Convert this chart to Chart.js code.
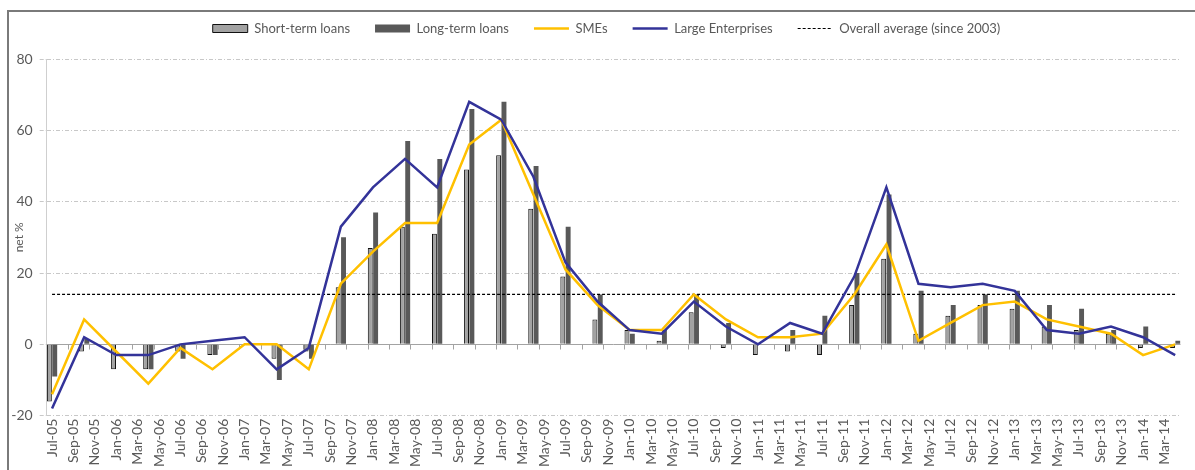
<!DOCTYPE html>
<html>
<head>
<meta charset="utf-8">
<script src="https://cdn.jsdelivr.net/npm/chart.js@4.4.1/dist/chart.umd.min.js"></script>
<style>
  html, body { margin: 0; padding: 0; background: #fff; overflow: hidden; }
  #wrap { position: relative; width: 1195px; height: 470px; }
  #frame { position: absolute; left: 6.5px; top: 9.5px; width: 1300px; height: 600px;
           border-left: 2px solid #7a7a7a; border-top: 2px solid #7a7a7a; pointer-events: none; }
  canvas { position: absolute; left: 0; top: 0; }
</style>
</head>
<body>
<div id="wrap">
  <canvas id="myChart" width="1195" height="470"></canvas>
  <div id="frame"></div>
</div>
<script>
// quarterly survey rounds
const quarters = ['Jul-05', 'Oct-05', 'Jan-06', 'Apr-06', 'Jul-06', 'Oct-06', 'Jan-07', 'Apr-07', 'Jul-07',
    'Oct-07', 'Jan-08', 'Apr-08', 'Jul-08', 'Oct-08', 'Jan-09', 'Apr-09', 'Jul-09', 'Oct-09',
    'Jan-10', 'Apr-10', 'Jul-10', 'Oct-10', 'Jan-11', 'Apr-11', 'Jul-11', 'Oct-11', 'Jan-12',
    'Apr-12', 'Jul-12', 'Oct-12', 'Jan-13', 'Apr-13', 'Jul-13', 'Oct-13', 'Jan-14', 'Apr-14'];

const shortTermLoans = [-16, -2, -7, -7, -2, -3, 0, -4, -2, 16, 27, 33, 31, 49, 53, 38, 19, 7,
    4, 1, 9, -1, -3, -2, -3, 11, 24, 3, 8, 11, 10, 5, 4, 3, -1, -1];
const longTermLoans = [-9, 1.5, 0, -7, -4, -3, 0, -10, -4, 30, 37, 57, 52, 66, 68, 50, 33, 14,
    3, 4, 14, 6, 0, 4, 8, 20, 42, 15, 11, 14, 15, 11, 10, 4, 5, 1];
const smes = [-14, 7, -2, -11, -1, -7, 0, 0, -7, 17, 26, 34, 34, 56, 63, 42, 21, 11,
    4, 4, 14, 7, 2, 2, 3, 14, 28, 1, 6, 11, 12, 7, 5, 3, -3, 0];
const largeEnterprises = [-18, 2, -3, -3, 0, 1, 2, -7, -1, 33, 44, 52, 44, 68, 63, 47, 23, 12,
    4, 3, 12, 5, 0, 6, 3, 19, 44, 17, 16, 17, 15, 4, 3, 5, 2, -3];
const overallAverage = 14;

const yTicks = [-20, 0, 20, 40, 60, 80];

// monthly axis, labels shown every second month
const monthNames = ['Jan', 'Feb', 'Mar', 'Apr', 'May', 'Jun', 'Jul', 'Aug', 'Sep', 'Oct', 'Nov', 'Dec'];
const months = [];
for (let yr = 2005, mo = 6; ; mo++) {
    if (mo === 12) { mo = 0; yr++; }
    const lbl = monthNames[mo] + '-' + String(yr).slice(2);
    months.push(lbl);
    if (lbl === quarters[quarters.length - 1]) break;
}

const toMonthly = series => months.map(m => {
    const k = quarters.indexOf(m);
    return k < 0 ? null : series[k];
});

// solid zero line with the small category ticks hanging from it
const zeroLine = {
    id: 'zeroLine',
    beforeDatasetsDraw(chart) {
        const { ctx, chartArea, scales: { x, y } } = chart;
        const y0 = Math.round(y.getPixelForValue(0)) + 0.5;
        const half = (x.getPixelForValue(1) - x.getPixelForValue(0)) / 2;
        ctx.save();
        ctx.strokeStyle = '#a3a3a3';
        ctx.lineWidth = 1;
        ctx.beginPath();
        ctx.moveTo(chartArea.left, y0);
        ctx.lineTo(chartArea.right, y0);
        months.forEach((m, i) => {
            if (i % 2 === 0) {
                const px = Math.round(x.getPixelForValue(i) - half) + 0.5;
                ctx.moveTo(px, y0);
                ctx.lineTo(px, y0 + 5);
            }
        });
        ctx.stroke();
        ctx.restore();
    }
};

Chart.defaults.font.family = 'Lato';
Chart.defaults.color = '#595959';

const ctx = document.getElementById('myChart').getContext('2d');
new Chart(ctx, {
    type: 'bar',
    data: {
        labels: months,
        datasets: [
            {
                label: 'Short-term loans',
                data: toMonthly(shortTermLoans),
                backgroundColor: '#a2a2a2',
                borderColor: '#111',
                borderWidth: 1,
                barPercentage: 0.92,
                categoryPercentage: 1,
                order: 3
            },
            {
                label: 'Long-term loans',
                data: toMonthly(longTermLoans),
                backgroundColor: '#595959',
                borderColor: '#595959',
                borderWidth: 0,
                barPercentage: 0.92,
                categoryPercentage: 1,
                order: 3
            },
            {
                type: 'line',
                label: 'SMEs',
                data: toMonthly(smes),
                borderColor: '#ffc000',
                backgroundColor: '#ffc000',
                borderWidth: 2.5,
                pointRadius: 0,
                tension: 0,
                spanGaps: true,
                order: 1
            },
            {
                type: 'line',
                label: 'Large Enterprises',
                data: toMonthly(largeEnterprises),
                borderColor: '#333399',
                backgroundColor: '#333399',
                borderWidth: 2.5,
                pointRadius: 0,
                tension: 0,
                spanGaps: true,
                order: 0
            },
            {
                type: 'line',
                label: 'Overall average (since 2003)',
                data: toMonthly(quarters.map(() => overallAverage)),
                borderColor: '#000',
                backgroundColor: '#000',
                borderWidth: 1.2,
                borderDash: [3, 2],
                pointRadius: 0,
                spanGaps: true,
                order: 2
            }
        ]
    },
    options: {
        responsive: false,
        animation: false,
        devicePixelRatio: 1,
        layout: {
            padding: { top: -3, right: -18, bottom: 0, left: 0 }
        },
        plugins: {
            legend: {
                position: 'top',
                labels: {
                    usePointStyle: true,
                    pointStyleWidth: 35,
                    boxHeight: 8,
                    padding: 25,
                    font: { size: 13 },
                    color: '#595959',
                    generateLabels(chart) {
                        const items = Chart.defaults.plugins.legend.labels.generateLabels(chart);
                        items.sort((a, b) => a.datasetIndex - b.datasetIndex);
                        items.forEach(it => {
                            const ds = chart.data.datasets[it.datasetIndex];
                            it.pointStyle = ds.type === 'line' ? 'line' : 'rect';
                            it.fillStyle = ds.backgroundColor;
                            it.strokeStyle = ds.borderColor;
                            it.lineWidth = ds.borderWidth;
                            it.lineDash = ds.borderDash || [];
                        });
                        return items;
                    }
                }
            },
            // empty spacers: below the legend and on the right of the plot
            title: {
                display: true,
                text: '',
                weight: 500,
                padding: 0,
                font: { size: 14, lineHeight: 1 }
            },
            subtitle: {
                display: true,
                text: '',
                position: 'right',
                padding: 0,
                font: { size: 24, lineHeight: 1 }
            },
            tooltip: { enabled: false }
        },
        scales: {
            x: {
                grid: { display: false, drawTicks: false },
                border: { display: false },
                ticks: {
                    autoSkip: false,
                    maxRotation: 90,
                    minRotation: 90,
                    padding: 3,
                    font: { size: 14 },
                    callback: (v, i) => (i % 2 === 0 ? months[i] : '')
                },
                afterFit(scale) { scale.height = 54.3; }
            },
            y: {
                min: yTicks[0],
                max: yTicks[yTicks.length - 1],
                afterBuildTicks(scale) { scale.ticks = yTicks.map(v => ({ value: v })); },
                ticks: { padding: 7, font: { size: 14 } },
                grid: {
                    color: '#c8c8c8',
                    tickLength: 7,
                    tickColor: '#c8c8c8',
                    tickBorderDash: [4, 2, 1, 2]
                },
                border: { display: true, color: '#cfcfcf', dash: [4, 2, 1, 2] },
                title: {
                    display: true,
                    text: 'net %',
                    font: { size: 12 },
                    color: '#595959',
                    padding: { top: 12, bottom: 0 }
                },
                afterFit(scale) { scale.width = 46.7; }
            }
        }
    },
    plugins: [zeroLine]
});
</script>
</body>
</html>
